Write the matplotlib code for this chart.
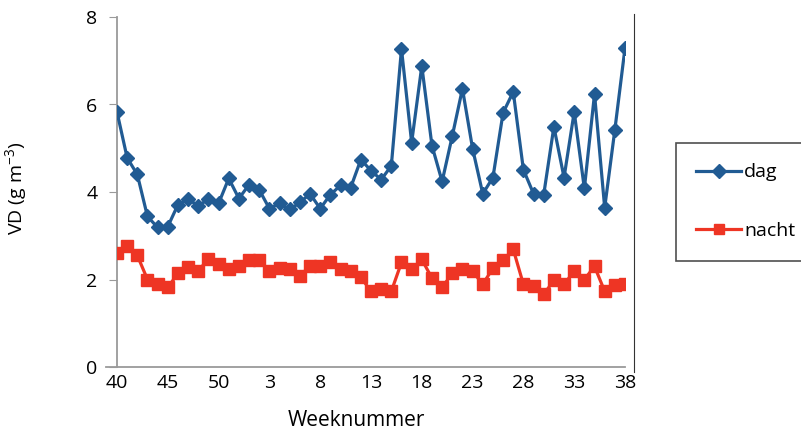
import matplotlib
matplotlib.use("Agg")
import matplotlib.pyplot as plt
from matplotlib.lines import Line2D
import numpy as np

plt.rcParams["font.family"] = ["Open Sans", "DejaVu Sans"]

# week numbers: week 40 of one year through week 38 of the next
weeks = list(range(40, 53)) + list(range(1, 39))

dag = [5.83, 4.78, 4.40, 3.44, 3.19, 3.21, 3.71, 3.83, 3.69, 3.83,
       3.74, 4.31, 3.85, 4.17, 4.05, 3.62, 3.74, 3.60, 3.76, 3.96,
       3.62, 3.94, 4.15, 4.10, 4.74, 4.49, 4.28, 4.60, 7.27, 5.13,
       6.88, 5.06, 4.24, 5.28, 6.36, 4.99, 3.96, 4.33, 5.81, 6.29,
       4.51, 3.96, 3.94, 5.49, 4.33, 5.83, 4.08, 6.24, 3.64, 5.42,
       7.29]

nacht = [2.60, 2.76, 2.55, 2.00, 1.89, 1.82, 2.14, 2.28, 2.19, 2.48,
         2.35, 2.23, 2.32, 2.44, 2.44, 2.19, 2.26, 2.23, 2.07, 2.32,
         2.32, 2.39, 2.23, 2.19, 2.05, 1.73, 1.78, 1.73, 2.39, 2.23,
         2.46, 2.03, 1.82, 2.14, 2.23, 2.19, 1.89, 2.26, 2.44, 2.69,
         1.89, 1.85, 1.66, 1.98, 1.89, 2.19, 2.00, 2.30, 1.73, 1.87,
         1.89]

BLUE = "#215B93"
RED = "#EE3524"
AXIS_GREY = "#9A9A9A"

x = np.arange(len(weeks))

fig = plt.figure(figsize=(8.01, 4.36), dpi=100)
ax = fig.add_axes([117 / 801, 1 - 367 / 436, (625 - 117) / 801, (367 - 17) / 436])

ax.plot(x, dag, color=BLUE, linewidth=2.3, marker="D", markersize=7.5,
        label="dag", zorder=3)
ax.plot(x, nacht, color=RED, linewidth=2.3, marker="s", markersize=8.5,
        label="nacht", zorder=3)

ax.set_xlim(0, len(weeks) - 1)
ax.set_ylim(0, 8)
ax.set_yticks([0, 2, 4, 6, 8])
tick_pos = x[::5]
ax.set_xticks(tick_pos)
ax.set_xticklabels([str(weeks[i]) for i in tick_pos])

for side in ("top", "right"):
    ax.spines[side].set_visible(False)
for side in ("left", "bottom"):
    ax.spines[side].set_color(AXIS_GREY)
    ax.spines[side].set_linewidth(1.3)
ax.tick_params(axis="y", direction="out", length=6, color=AXIS_GREY,
               labelsize=14, pad=8)
ax.tick_params(axis="x", direction="out", length=0, labelsize=14, pad=5)
for lbl in ax.get_xticklabels() + ax.get_yticklabels():
    lbl.set_clip_on(False)
ax.plot([-1.1, 0], [0, 0], color=AXIS_GREY, lw=1.3, clip_on=False)

ax.set_xlabel("Weeknummer", fontsize=15)
ax.xaxis.set_label_coords(0.472, -0.122)
ax.set_ylabel("VD (g m$^{\\mathregular{-3}}$)", fontsize=14)
ax.yaxis.set_label_coords(-0.172, 0.51)

# right frame edge
fig.add_artist(Line2D([634 / 801, 634 / 801], [1 - 372 / 436, 1 - 14 / 436],
                      color="#333333", linewidth=0.8))

leg = fig.legend(loc="upper left", bbox_to_anchor=(676 / 801, 1 - 143 / 436),
                 fontsize=14, frameon=True, fancybox=False, handlelength=2.3,
                 labelspacing=2.1, borderpad=1.05, handletextpad=0.15,
                 borderaxespad=0, markerscale=0.9)
leg.get_frame().set_edgecolor("#222222")
leg.get_frame().set_linewidth(1.2)

fig.savefig("out.png", dpi=100)
